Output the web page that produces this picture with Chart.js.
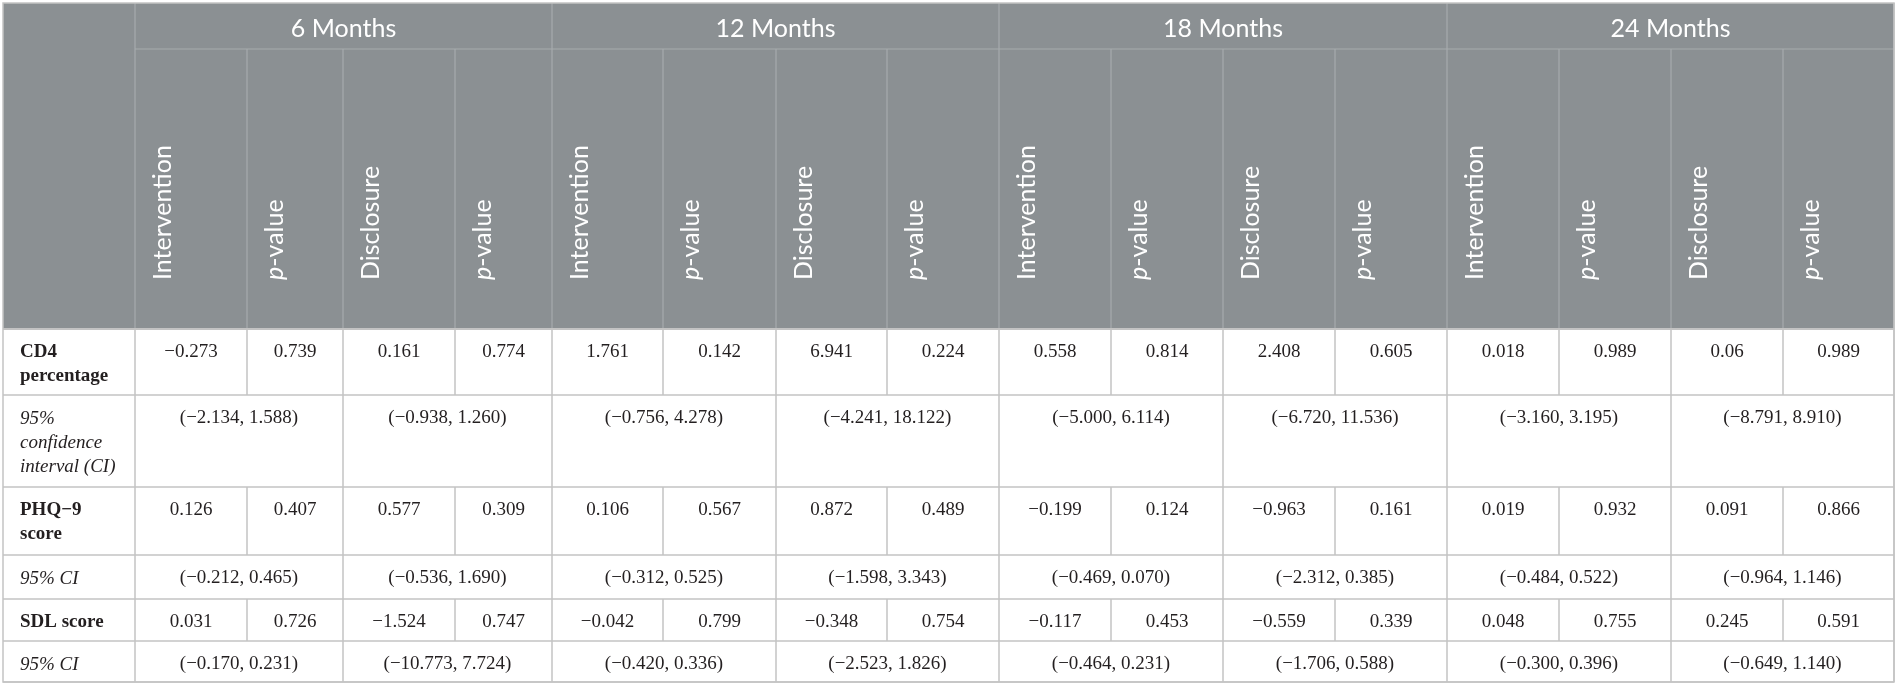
<!DOCTYPE html>
<html><head><meta charset="utf-8">
<script src="https://cdn.jsdelivr.net/npm/chart.js@4.4.1/dist/chart.umd.min.js"></script>
<style>html,body{margin:0;padding:0;background:#fff;overflow:hidden}canvas{display:block}</style>
</head><body>
<canvas id="c" width="1897" height="688"></canvas>
<script>
// ---------- DATA ----------
const groups = ['6 Months', '12 Months', '18 Months', '24 Months'];
const subHeaders = ['Intervention', 'p-value', 'Disclosure', 'p-value'];
const rowLabels = [['CD4', 'percentage'], ['95%', 'confidence', 'interval (CI)'], ['PHQ\u22129', 'score'], ['95% CI'], ['SDL score'], ['95% CI']];
const rowKinds = ['value', 'ci', 'value', 'ci', 'value', 'ci'];

const cd4Values = [-0.273, 0.739, 0.161, 0.774, 1.761, 0.142, 6.941, 0.224, 0.558, 0.814, 2.408, 0.605, 0.018, 0.989, 0.06, 0.989];
const cd4CiLow  = [-2.134, -0.938, -0.756, -4.241, -5.000, -6.720, -3.160, -8.791];
const cd4CiHigh = [1.588, 1.260, 4.278, 18.122, 6.114, 11.536, 3.195, 8.910];

const phqValues = [0.126, 0.407, 0.577, 0.309, 0.106, 0.567, 0.872, 0.489, -0.199, 0.124, -0.963, 0.161, 0.019, 0.932, 0.091, 0.866];
const phqCiLow  = [-0.212, -0.536, -0.312, -1.598, -0.469, -2.312, -0.484, -0.964];
const phqCiHigh = [0.465, 1.690, 0.525, 3.343, 0.070, 0.385, 0.522, 1.146];

const sdlValues = [0.031, 0.726, -1.524, 0.747, -0.042, 0.799, -0.348, 0.754, -0.117, 0.453, -0.559, 0.339, 0.048, 0.755, 0.245, 0.591];
const sdlCiLow  = [-0.170, -10.773, -0.420, -2.523, -0.464, -1.706, -0.300, -0.649];
const sdlCiHigh = [0.231, 7.724, 0.336, 1.826, 0.231, 0.588, 0.396, 1.140];

// ---------- LAYOUT (table units) ----------
const colWidths = [132, 112, 96, 112, 97, 111, 113, 111, 112, 112, 112, 112, 112, 112, 112, 112, 111];
const headRows = [46, 280];
const bodyRows = [66, 92, 68, 44, 42, 41];
const MARGIN = 3;
const CANVAS_W = 1897, CANVAS_H = 688;
const FIRST_LINE = 23.5, LINE_H = 24;

const colEdges = [0];
colWidths.forEach(w => colEdges.push(colEdges[colEdges.length - 1] + w));
const rowEdges = [0];
headRows.concat(bodyRows).forEach(h => rowEdges.push(rowEdges[rowEdges.length - 1] + h));
const tableW = colEdges[colEdges.length - 1];
const tableH = rowEdges[rowEdges.length - 1];
const headerBottom = rowEdges[2];

const fmt = v => String(v).replace('-', '\u2212');
const fmtCi = (a, b) => '(' + a.toFixed(3).replace('-', '\u2212') + ', ' + b.toFixed(3).replace('-', '\u2212') + ')';

const valueSets = [cd4Values, phqValues, sdlValues];
const ciSets = [[cd4CiLow, cd4CiHigh], [phqCiLow, phqCiHigh], [sdlCiLow, sdlCiHigh]];

// build cell points through the library's scales
const points = [];
const cellTexts = [];
let vi = 0, ci = 0;
rowKinds.forEach((kind, r) => {
  const top = rowEdges[2 + r];
  if (kind === 'value') {
    const vals = valueSets[vi++];
    vals.forEach((v, i) => {
      const c = 1 + i;
      points.push({x: (colEdges[c] + colEdges[c + 1]) / 2, y: top + FIRST_LINE});
      cellTexts.push(fmt(v));
    });
  } else {
    const [lo, hi] = ciSets[ci++];
    lo.forEach((a, i) => {
      const c = 1 + i * 2;
      points.push({x: (colEdges[c] + colEdges[c + 2]) / 2, y: top + FIRST_LINE});
      cellTexts.push(fmtCi(a, hi[i]));
    });
  }
});

const HEADER_BG = '#8b9093';
const HEADER_LINE = '#a7abad';
const BODY_LINE = '#c3c3c3';
const TEXT = '#231f20';
const SERIF = '"Liberation Serif", "Times New Roman", serif';
const SANS = 'Lato, "Open Sans", sans-serif';

const tablePlugin = {
  id: 'tablePlugin',
  beforeDatasetsDraw(chart) {
    const ctx = chart.ctx;
    const xs = chart.scales.x, ys = chart.scales.y;
    const X = v => xs.getPixelForValue(v);
    const Y = v => ys.getPixelForValue(v);
    const line = (x1, y1, x2, y2, color, w) => {
      ctx.strokeStyle = color; ctx.lineWidth = w;
      ctx.beginPath(); ctx.moveTo(x1, y1); ctx.lineTo(x2, y2); ctx.stroke();
    };
    ctx.save();
    // header background
    ctx.fillStyle = HEADER_BG;
    ctx.fillRect(X(0), Y(0), X(tableW) - X(0), Y(headerBottom) - Y(0));

    // header lines
    line(X(colEdges[1]), Y(0), X(colEdges[1]), Y(headerBottom), HEADER_LINE, 1.2);
    for (let g = 0; g < groups.length; g++) {
      const c0 = 1 + g * 4;
      line(X(colEdges[c0 + 4]), Y(0), X(colEdges[c0 + 4]), Y(headerBottom), HEADER_LINE, 1.2);
      for (let k = 1; k < 4; k++) {
        line(X(colEdges[c0 + k]), Y(rowEdges[1]), X(colEdges[c0 + k]), Y(headerBottom), HEADER_LINE, 1.2);
      }
    }
    line(X(colEdges[1]), Y(rowEdges[1]), X(tableW), Y(rowEdges[1]), HEADER_LINE, 1.2);

    // body lines
    for (let r = 0; r < bodyRows.length; r++) {
      const t = rowEdges[2 + r], b = rowEdges[3 + r];
      line(X(0), Y(b), X(tableW), Y(b), BODY_LINE, 1.5);
      for (let c = 1; c < colEdges.length; c++) {
        const inner = (c - 1) % 4;
        if (rowKinds[r] === 'ci' && (inner === 1 || inner === 3)) continue;
        line(X(colEdges[c]), Y(t), X(colEdges[c]), Y(b), BODY_LINE, 1.5);
      }
    }
    line(X(0), Y(headerBottom), X(tableW), Y(headerBottom), BODY_LINE, 2);
    // outer border
    ctx.strokeStyle = BODY_LINE; ctx.lineWidth = 1.5;
    ctx.strokeRect(X(0), Y(0), X(tableW) - X(0), Y(tableH) - Y(0));

    // header text
    ctx.fillStyle = '#ffffff';
    ctx.font = '25px ' + SANS;
    ctx.textAlign = 'center'; ctx.textBaseline = 'middle';
    groups.forEach((g, i) => {
      const c0 = 1 + i * 4;
      ctx.fillText(g, (X(colEdges[c0]) + X(colEdges[c0 + 4])) / 2, Y(26));
    });
    ctx.textAlign = 'left'; ctx.textBaseline = 'alphabetic';
    groups.forEach((g, i) => {
      subHeaders.forEach((s, k) => {
        const c = 1 + i * 4 + k;
        ctx.save();
        ctx.translate(X(colEdges[c] + 36), Y(headerBottom - 49));
        ctx.rotate(-Math.PI / 2);
        if (s.startsWith('p-')) {
          ctx.font = 'italic 25px ' + SANS;
          ctx.fillText('p', 0, 0);
          const w = ctx.measureText('p').width;
          ctx.font = '25px ' + SANS;
          ctx.fillText(s.slice(1), w, 0);
        } else {
          ctx.font = '25px ' + SANS;
          ctx.fillText(s, 0, 0);
        }
        ctx.restore();
      });
    });

    // row labels
    ctx.fillStyle = TEXT;
    ctx.textBaseline = 'middle';
    rowLabels.forEach((lines, r) => {
      const top = rowEdges[2 + r];
      ctx.font = (rowKinds[r] === 'value' ? 'bold ' : 'italic ') + '19px ' + SERIF;
      lines.forEach((t, j) => ctx.fillText(t, X(17), Y(top + FIRST_LINE + j * LINE_H)));
    });
    ctx.restore();
  },
  afterDatasetsDraw(chart) {
    const ctx = chart.ctx;
    const meta = chart.getDatasetMeta(0);
    ctx.save();
    ctx.fillStyle = TEXT;
    ctx.font = '19px ' + SERIF;
    ctx.textAlign = 'center'; ctx.textBaseline = 'middle';
    meta.data.forEach((el, i) => ctx.fillText(cellTexts[i], el.x, el.y));
    ctx.restore();
  }
};

new Chart(document.getElementById('c'), {
  type: 'scatter',
  data: {datasets: [{data: points, pointRadius: 0, pointHoverRadius: 0}]},
  options: {
    responsive: false,
    animation: false,
    events: [],
    layout: {padding: 0},
    plugins: {legend: {display: false}, tooltip: {enabled: false}},
    scales: {
      x: {type: 'linear', display: false, min: -MARGIN, max: CANVAS_W - MARGIN},
      y: {type: 'linear', display: false, reverse: true, min: -MARGIN, max: CANVAS_H - MARGIN}
    }
  },
  plugins: [tablePlugin]
});
</script>
</body></html>
